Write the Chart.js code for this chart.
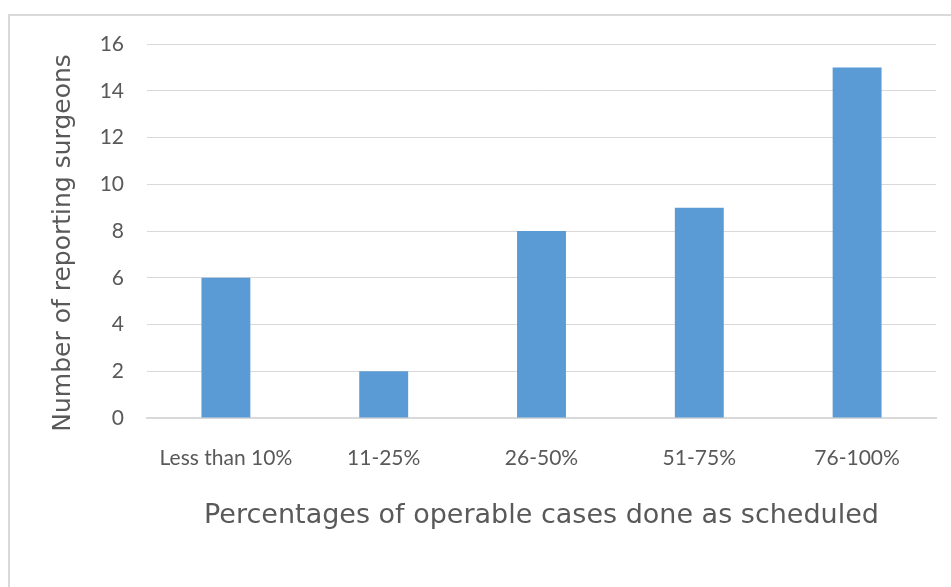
<!DOCTYPE html>
<html>
<head>
<meta charset="utf-8">
<script src="https://cdn.jsdelivr.net/npm/chart.js@4.4.1/dist/chart.umd.min.js"></script>
<style>
  html, body { margin: 0; padding: 0; background: #ffffff; overflow: hidden; }
  #wrap { position: relative; width: 951px; height: 587px; }
  #frame {
    position: absolute; left: 8px; top: 14px; width: 960px; height: 600px;
    border-left: 2px solid #d9d9d9; border-top: 2px solid #d9d9d9;
    box-sizing: border-box;
  }
  canvas { position: absolute; left: 0; top: 0; }
</style>
</head>
<body>
<div id="wrap">
  <div id="frame"></div>
  <canvas id="chart" width="951" height="587"></canvas>
</div>
<script>
// Survey results: how many surgeons report each share of operable cases done on schedule
const categories = ['Less than 10%', '11-25%', '26-50%', '51-75%', '76-100%'];
const surgeonCounts = [6, 2, 8, 9, 15];
const yTickValues = [0, 2, 4, 6, 8, 10, 12, 14, 16];

const xTitle = 'Percentages of operable cases done as scheduled';
// trailing spaces nudge the rotated title a little lower along the axis
const yTitle = 'Number of reporting surgeons   ';

const tickFont = { family: 'Lato', size: 21 };
const titleFontX = { family: 'DejaVu Sans', size: 27 };
const titleFontY = { family: 'DejaVu Sans', size: 25 };
const textColor = '#595959';
const gridColor = '#d9d9d9';

new Chart(document.getElementById('chart'), {
  type: 'bar',
  data: {
    labels: categories,
    datasets: [{
      data: surgeonCounts,
      backgroundColor: '#5b9bd5',
      borderWidth: 0,
      categoryPercentage: 1,
      barPercentage: 0.31
    }]
  },
  options: {
    responsive: false,
    animation: false,
    devicePixelRatio: 1,
    layout: { padding: { left: 40, top: 44, right: 15, bottom: 0 } },
    plugins: { legend: { display: false }, tooltip: { enabled: false } },
    scales: {
      x: {
        grid: { display: false, drawTicks: false },
        border: { color: gridColor, width: 2 },
        ticks: { color: textColor, font: tickFont, padding: 28, maxRotation: 0, autoSkip: false },
        title: { display: true, text: xTitle, color: textColor, font: titleFontX, padding: { top: 0, bottom: 55 } },
        afterFit(scale) { scale.height = 169; }
      },
      y: {
        min: 0, max: 16,
        afterBuildTicks(scale) { scale.ticks = yTickValues.map(v => ({ value: v })); },
        grid: { color: gridColor, lineWidth: 1, drawTicks: false },
        border: { display: false },
        ticks: { color: textColor, font: tickFont, padding: 23 },
        title: { display: true, text: yTitle, color: textColor, font: titleFontY, padding: { top: 8, bottom: 0 } },
        afterFit(scale) { scale.width = 107; }
      }
    }
  }
});
</script>
</body>
</html>
